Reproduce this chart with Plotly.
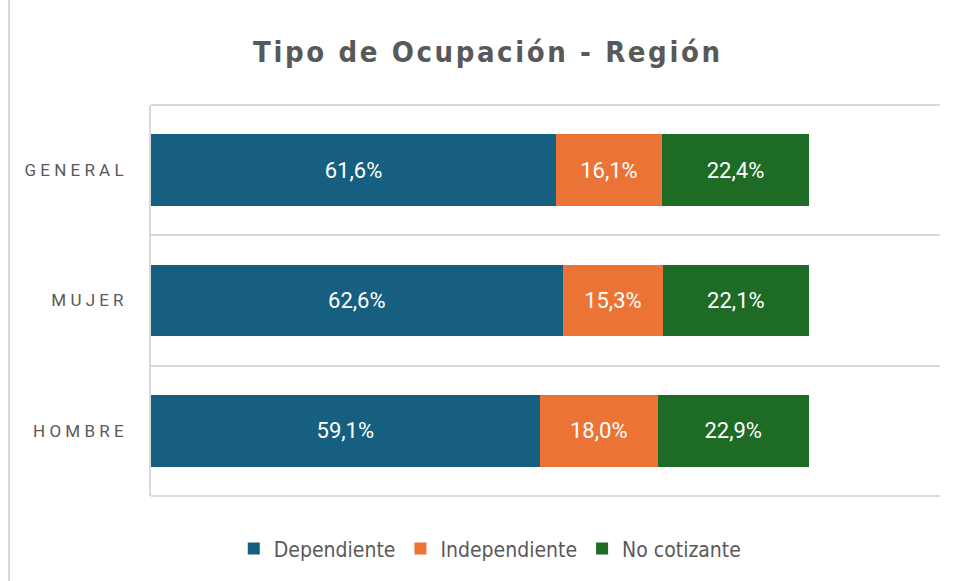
import plotly.graph_objects as go

# datos
categorias = ["GENERAL", "MUJER", "HOMBRE"]
dependiente = [61.6, 62.6, 59.1]
independiente = [16.1, 15.3, 18.0]
no_cotizante = [22.4, 22.1, 22.9]

series = [
    ("Dependiente", dependiente, "#175F80"),
    ("Independiente", independiente, "#EB7335"),
    ("No cotizante", no_cotizante, "#1D6B25"),
]

GRIS = "#595959"
REJILLA = "#D9D9D9"
NARROW = "DejaVu Sans Condensed, Liberation Sans Narrow, Roboto, sans-serif"


def espaciado(txt, sep="\u2009"):
    # Excel usa espaciado entre caracteres; plotly no lo tiene
    return sep.join(txt)


fig = go.Figure()

for nombre, vals, color in series:
    fig.add_trace(go.Bar(
        y=categorias,
        x=vals,
        name=nombre,
        orientation="h",
        marker=dict(color=color, line=dict(width=0)),
        text=[f"{v:.1f}%".replace(".", ",") for v in vals],
        textposition="inside",
        insidetextanchor="middle",
        textangle=0,
        textfont=dict(color="white", size=22, family="Roboto, sans-serif"),
        hoverinfo="skip",
    ))

fig.update_layout(
    barmode="stack",
    bargap=0.45,
    width=954,
    height=581,
    margin=dict(l=151, r=14, t=105, b=85),
    paper_bgcolor="white",
    plot_bgcolor="white",
    title=dict(
        text="<b>" + espaciado("Tipo de Ocupación - Región", "\u200a") + "</b>",
        x=0.51, xanchor="center",
        y=0.91, yanchor="middle",
        font=dict(size=29, color=GRIS, family=NARROW),
    ),
    legend=dict(
        orientation="h",
        x=0.43, xanchor="center",
        y=-0.135, yanchor="middle",
        font=dict(size=21, color=GRIS, family=NARROW),
        itemwidth=30,
        traceorder="normal",
    ),
    showlegend=True,
)

fig.update_xaxes(
    range=[0, 120],
    visible=False,
    showgrid=False,
    zeroline=False,
)

fig.update_yaxes(
    categoryorder="array",
    categoryarray=categorias[::-1],
    tickvals=categorias,
    ticktext=[espaciado(c, " ") for c in categorias],
    tickfont=dict(size=17, color=GRIS, family="Roboto, sans-serif"),
    ticks="",
    tickson="boundaries",
    showgrid=True,
    gridcolor=REJILLA,
    gridwidth=2,
    showline=True,
    linecolor=REJILLA,
    linewidth=2,
    ticklabelstandoff=22,
    zeroline=False,
)

# lineas superior e inferior del area de trazado
for yy in (0, 1):
    fig.add_shape(type="line", xref="paper", yref="paper",
                  x0=0, x1=1, y0=yy, y1=yy,
                  line=dict(color=REJILLA, width=2))

# borde izquierdo del area del grafico
fig.add_shape(type="line", xref="paper", yref="paper",
              x0=-0.18, x1=-0.18, y0=-0.22, y1=1.27,
              line=dict(color=REJILLA, width=2))

# quitar el margen por defecto del body y la barra de herramientas
fig.write_html("out.html", config={"displayModeBar": False},
               post_script="document.body.style.margin='0';")
